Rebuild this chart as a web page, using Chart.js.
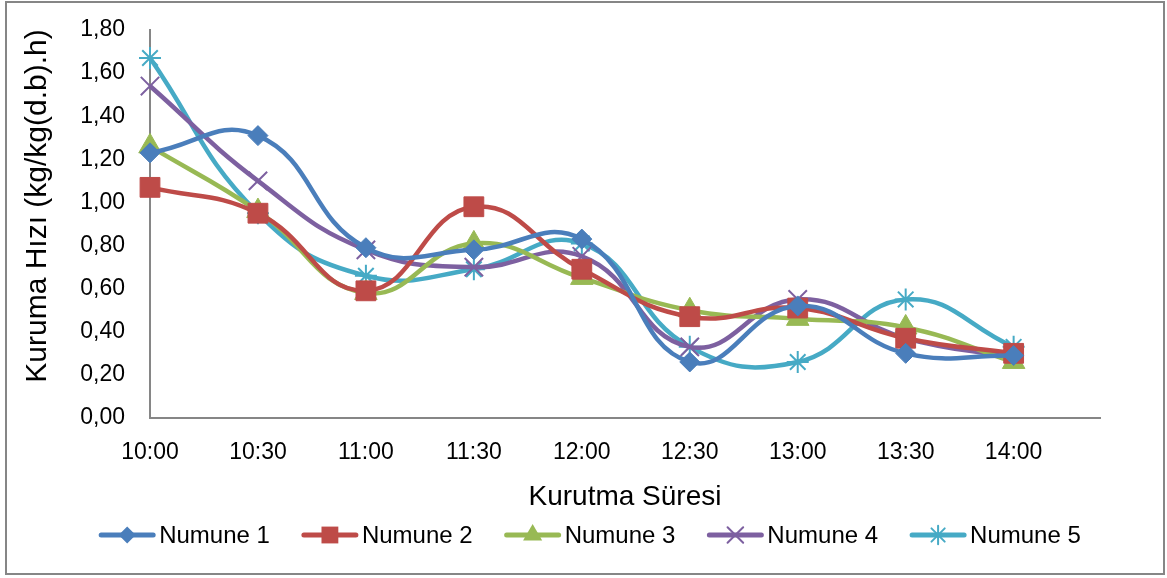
<!DOCTYPE html>
<html>
<head>
<meta charset="utf-8">
<script src="https://cdn.jsdelivr.net/npm/chart.js@4"></script>
<style>
  html, body { margin: 0; padding: 0; background: #fff; }
  #wrap { width: 1167px; height: 578px; position: relative; }
</style>
</head>
<body>
<div id="wrap"><canvas id="c"></canvas></div>
<script>
const times = ['10:00','10:30','11:00','11:30','12:00','12:30','13:00','13:30','14:00'];
const numune1 = [1.23, 1.31, 0.79, 0.78, 0.83, 0.26, 0.52, 0.30, 0.29];
const numune2 = [1.07, 0.95, 0.59, 0.98, 0.69, 0.47, 0.51, 0.37, 0.30];
const numune3 = [1.26, 0.96, 0.58, 0.81, 0.65, 0.50, 0.46, 0.42, 0.26];
const numune4 = [1.54, 1.10, 0.78, 0.70, 0.75, 0.33, 0.55, 0.37, 0.28];
const numune5 = [1.67, 0.95, 0.66, 0.69, 0.81, 0.33, 0.26, 0.55, 0.33];
const seriesNames = ['Numune 1','Numune 2','Numune 3','Numune 4','Numune 5'];
const yTicks = [0, 0.2, 0.4, 0.6, 0.8, 1.0, 1.2, 1.4, 1.6, 1.8];
const yTitle = 'Kuruma Hızı (kg/kg(d.b).h)';
const xTitle = 'Kurutma Süresi';

const colors = ['#4A7EBB', '#BE4B48', '#98B954', '#7D60A0', '#46AAC5'];
const styles = ['rectRot', 'rect', 'triangle', 'crossRot', 'star'];
const radii = [10, 14, 13, 13, 11];
const FONT = "'Liberation Sans', Arial, sans-serif";

function drawMarker(ctx, style, x, y, r, color) {
  ctx.save();
  ctx.fillStyle = color; ctx.strokeStyle = color; ctx.lineWidth = 2;
  ctx.beginPath();
  if (style === 'rectRot') {
    ctx.moveTo(x, y - r); ctx.lineTo(x + r, y); ctx.lineTo(x, y + r); ctx.lineTo(x - r, y); ctx.closePath(); ctx.fill();
  } else if (style === 'rect') {
    const s = r * Math.SQRT1_2; ctx.rect(x - s, y - s, 2 * s, 2 * s); ctx.fill();
  } else if (style === 'triangle') {
    const w = r * Math.sqrt(3) / 2;
    ctx.moveTo(x, y - r); ctx.lineTo(x + w, y + r / 2); ctx.lineTo(x - w, y + r / 2); ctx.closePath(); ctx.fill();
  } else if (style === 'crossRot') {
    const o = r * Math.SQRT1_2;
    ctx.moveTo(x - o, y - o); ctx.lineTo(x + o, y + o); ctx.moveTo(x + o, y - o); ctx.lineTo(x - o, y + o); ctx.stroke();
  } else if (style === 'star') {
    const o = r * Math.SQRT1_2;
    ctx.moveTo(x, y - r); ctx.lineTo(x, y + r);
    ctx.moveTo(x - o, y - o); ctx.lineTo(x + o, y + o); ctx.moveTo(x + o, y - o); ctx.lineTo(x - o, y + o); ctx.stroke();
  }
  ctx.restore();
}

const allSeries = [numune1, numune2, numune3, numune4, numune5];
const datasets = allSeries.map((vals, i) => ({
  label: seriesNames[i],
  data: vals.map((v, k) => ({ x: k, y: v })),
  borderColor: colors[i],
  backgroundColor: colors[i],
  borderWidth: 4.5,
  tension: 0.45,
  pointStyle: styles[i],
  pointRadius: radii[i],
  pointHoverRadius: radii[i],
  pointBorderWidth: (styles[i] === 'crossRot' || styles[i] === 'star') ? 2 : 1,
  pointBackgroundColor: colors[i],
  pointBorderColor: colors[i],
  clip: false
}));

const frame = {
  id: 'frame',
  beforeDraw(chart) {
    const ctx = chart.ctx;
    ctx.save(); ctx.fillStyle = '#fff'; ctx.fillRect(0, 0, chart.width, chart.height); ctx.restore();
  },
  afterDraw(chart) {
    const ctx = chart.ctx;
    ctx.save();
    // y axis title
    ctx.save();
    ctx.font = "30px " + FONT;
    ctx.fillStyle = '#000'; ctx.textAlign = 'center'; ctx.textBaseline = 'middle';
    ctx.translate(38, 206); ctx.rotate(-Math.PI / 2);
    ctx.fillText(yTitle, 0, 0);
    ctx.restore();
    // custom legend: line + marker + label
    ctx.font = "24px " + FONT;
    const lineLen = 56, gap = 4, itemGap = 32, cy = 535;
    const widths = seriesNames.map(n => ctx.measureText(n).width);
    const total = widths.reduce((a, b) => a + b, 0) + seriesNames.length * (lineLen + gap) + (seriesNames.length - 1) * itemGap;
    let x = 590 - total / 2;
    seriesNames.forEach((name, i) => {
      ctx.strokeStyle = colors[i]; ctx.lineWidth = 5; ctx.lineCap = 'round';
      ctx.beginPath(); ctx.moveTo(x + 2, cy); ctx.lineTo(x + lineLen - 2, cy); ctx.stroke();
      drawMarker(ctx, styles[i], x + lineLen / 2, cy, radii[i] * 0.85, colors[i]);
      ctx.fillStyle = '#000'; ctx.textBaseline = 'middle'; ctx.textAlign = 'left';
      ctx.fillText(name, x + lineLen + gap, cy + 1);
      x += lineLen + gap + widths[i] + itemGap;
    });
    ctx.strokeStyle = '#868686'; ctx.lineWidth = 2;
    ctx.strokeRect(6, 2, 1158, 572);
    ctx.restore();
  }
};

new Chart(document.getElementById('c'), {
  type: 'line',
  data: { datasets },
  plugins: [frame],
  options: {
    responsive: true,
    maintainAspectRatio: false,
    animation: false,
    layout: { padding: { left: 0, right: 67, top: 30, bottom: 60 } },
    plugins: {
      tooltip: { enabled: false },
      legend: { display: false }
    },
    scales: {
      x: {
        type: 'linear',
        min: 0, max: 8.8,
        afterBuildTicks(scale) { scale.ticks = times.map((t, i) => ({ value: i })); },
        afterFit(scale) { scale.height = 100; scale.paddingLeft = 0; scale.paddingRight = 0; },
        grid: { display: false, drawTicks: false },
        border: { display: true, color: '#868686', width: 2 },
        ticks: {
          padding: 21, color: '#000', maxRotation: 0, autoSkip: false,
          font: { family: FONT, size: 23 },
          callback: (v) => times[v] !== undefined ? times[v] : ''
        },
        title: {
          display: true, text: xTitle, color: '#000',
          font: { family: FONT, size: 28 }, padding: { top: 0, bottom: 4 }
        }
      },
      y: {
        min: 0, max: 1.8,
        afterBuildTicks(scale) { scale.ticks = yTicks.map(v => ({ value: v })); },
        afterFit(scale) { scale.width = 150; scale.paddingTop = 0; scale.paddingBottom = 0; },
        grid: { display: false, drawTicks: false },
        border: { display: true, color: '#868686', width: 2 },
        ticks: {
          padding: 25, color: '#000',
          font: { family: FONT, size: 23 },
          callback: (v) => v.toFixed(2).replace('.', ',')
        },
        title: { display: false }
      }
    }
  }
});
</script>
</body>
</html>
